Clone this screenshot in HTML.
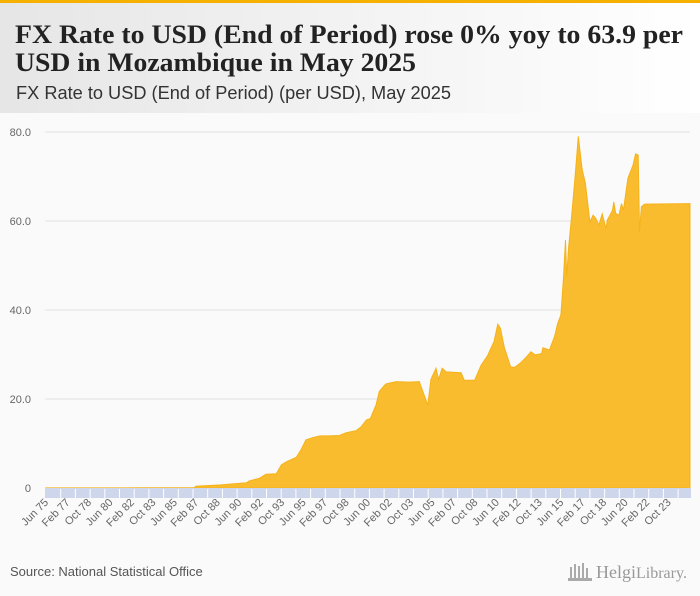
<!DOCTYPE html>
<html><head><meta charset="utf-8"><style>
html,body{margin:0;padding:0;background:#fafafa;}
svg{display:block;font-family:"Liberation Sans",sans-serif;}
</style></head><body>
<svg id="chart" width="700" height="596" viewBox="0 0 700 596">
<defs><linearGradient id="hg" x1="0" x2="1" y1="0" y2="0"><stop offset="0" stop-color="#e6e6e6"/><stop offset="1" stop-color="#ffffff"/></linearGradient></defs>
<rect x="0" y="0" width="700" height="596" fill="#fafafa"/>
<rect x="0" y="0" width="700" height="113" fill="url(#hg)"/>
<rect x="0" y="0" width="700" height="3" fill="#f5b000"/>
<text x="15" y="43" font-family="Liberation Serif, serif" font-weight="bold" font-size="26" fill="#222" textLength="668" lengthAdjust="spacingAndGlyphs">FX Rate to USD (End of Period) rose 0% yoy to 63.9 per</text>
<text x="15" y="71" font-family="Liberation Serif, serif" font-weight="bold" font-size="26" fill="#222" textLength="401" lengthAdjust="spacingAndGlyphs">USD in Mozambique in May 2025</text>
<text x="16" y="99" font-size="18" fill="#333" textLength="435" lengthAdjust="spacingAndGlyphs">FX Rate to USD (End of Period) (per USD), May 2025</text>
<g id="grid"></g>
<g id="area"></g>
<g id="xaxis"></g>
<text x="10" y="576" font-size="13" fill="#555">Source: National Statistical Office</text>
<g>
<g fill="#aaa"><rect x="570" y="567" width="2" height="12"/><rect x="574" y="564" width="2" height="15"/><rect x="578" y="566" width="2" height="13"/><rect x="582" y="563" width="2" height="16"/><rect x="586" y="568" width="2" height="11"/><rect x="568" y="578" width="24" height="3"/></g>
<text x="596" y="578" font-family="Liberation Serif, serif" font-size="18" fill="#999">Helgi<tspan font-size="16">Library.</tspan></text>
</g>
</svg>
<script>
const dates = [1975.42,1983.0,1986.95,1987.05,1989.0,1991.0,1991.2,1992.0,1992.5,1993.3,1993.7,1994.1,1994.85,1995.2,1995.6,1996.1,1996.7,1997.4,1998.2,1998.7,1999.5,1999.9,2000.3,2000.6,2001.05,2001.3,2001.8,2002.6,2003.6,2004.4,2005.06,2005.3,2005.7,2005.9,2006.17,2006.5,2007.65,2007.9,2008.7,2009.2,2009.7,2010.2,2010.5,2010.7,2011.0,2011.5,2011.8,2012.3,2012.7,2013.07,2013.4,2013.9,2014.0,2014.5,2014.9,2015.15,2015.4,2015.6,2015.75,2015.85,2016.0,2016.25,2016.5,2016.75,2017.05,2017.3,2017.65,2017.9,2018.1,2018.35,2018.6,2018.9,2019.0,2019.4,2019.5,2019.65,2019.9,2020.1,2020.25,2020.6,2021.0,2021.2,2021.4,2021.5,2021.65,2021.9,2025.42];
const values = [0.02,0.05,0.08,0.4,0.7,1.2,1.6,2.2,3.1,3.2,5.2,5.9,6.9,8.5,10.8,11.3,11.7,11.7,11.8,12.4,12.9,13.8,15.3,15.6,18.7,21.7,23.4,23.9,23.8,23.9,18.6,24.4,26.9,24.4,26.9,26.1,25.9,24.2,24.2,27.6,29.7,32.9,36.8,35.9,31.6,27.2,27.1,28.2,29.4,30.6,29.9,30.2,31.5,31.0,34.0,37.0,38.9,47.3,55.7,47.5,54.3,61.7,70.0,79.0,71.5,68.5,59.8,61.3,60.6,59.1,61.6,58.3,60.2,62.4,64.3,61.7,61.3,63.9,62.4,69.6,72.6,75.1,74.8,57.6,63.2,63.8,63.9];
const yTicks = [0,20,40,60,80];
const yTickLabels = ["0","20.0","40.0","60.0","80.0"];
const xLabels = ["Jun 75","Feb 77","Oct 78","Jun 80","Feb 82","Oct 83","Jun 85","Feb 87","Oct 88","Jun 90","Feb 92","Oct 93","Jun 95","Feb 97","Oct 98","Jun 00","Feb 02","Oct 03","Jun 05","Feb 07","Oct 08","Jun 10","Feb 12","Oct 13","Jun 15","Feb 17","Oct 18","Jun 20","Feb 22","Oct 23"];
const NS="http://www.w3.org/2000/svg";
const X0=46, X1=690, T0=1975.42, T1=2025.42, Y0=488, PXU=4.45;
function xScale(t){return X0+(t-T0)*(X1-X0)/(T1-T0);}
function yScale(v){return Y0-v*PXU;}
const grid=document.getElementById('grid');
yTicks.forEach((v,i)=>{
  const l=document.createElementNS(NS,'line');
  l.setAttribute('x1',45);l.setAttribute('x2',690);
  l.setAttribute('y1',yScale(v));l.setAttribute('y2',yScale(v));
  l.setAttribute('stroke','#e2e2e2');l.setAttribute('stroke-width','1');
  
  
  grid.appendChild(l);
  const t=document.createElementNS(NS,'text');
  t.setAttribute('x',31);t.setAttribute('y',yScale(v)+4);
  t.setAttribute('text-anchor','end');t.setAttribute('font-size','11');t.setAttribute('fill','#666');
  t.textContent=yTickLabels[i];
  
  
  grid.appendChild(t);
});
let d='M'+xScale(dates[0])+','+Y0;
dates.forEach((t,i)=>{d+=' L'+xScale(t).toFixed(1)+','+yScale(values[i]).toFixed(1);});
d+=' L'+xScale(dates[dates.length-1])+','+Y0+' Z';
const p=document.createElementNS(NS,'path');
p.setAttribute('d',d);p.setAttribute('fill','#f9bc2f');p.setAttribute('stroke','#f5b21a');p.setAttribute('stroke-width','1');


document.getElementById('area').appendChild(p);
const xa=document.getElementById('xaxis');
const band=document.createElementNS(NS,'rect');
band.setAttribute('x',45);band.setAttribute('y',488);band.setAttribute('width',646);band.setAttribute('height',10);band.setAttribute('fill','#cdd6ea');


xa.appendChild(band);
for(let x=46+14.7;x<690;x+=14.7){
  const s=document.createElementNS(NS,'line');
  s.setAttribute('x1',x);s.setAttribute('x2',x);s.setAttribute('y1',489);s.setAttribute('y2',498);
  s.setAttribute('stroke','#fff');s.setAttribute('stroke-width','1');
  
  
  xa.appendChild(s);
}
xLabels.forEach((lab,i)=>{
  const t=T0+i*20/12;
  const x=xScale(t)+3, y=503;
  const tx=document.createElementNS(NS,'text');
  tx.setAttribute('x',x);tx.setAttribute('y',y);
  tx.setAttribute('text-anchor','end');tx.setAttribute('font-size','11');tx.setAttribute('fill','#666');
  tx.setAttribute('transform','rotate(-45 '+x+' '+y+')');
  tx.textContent=lab;
  
  
  xa.appendChild(tx);
});
</script>
</body></html>
